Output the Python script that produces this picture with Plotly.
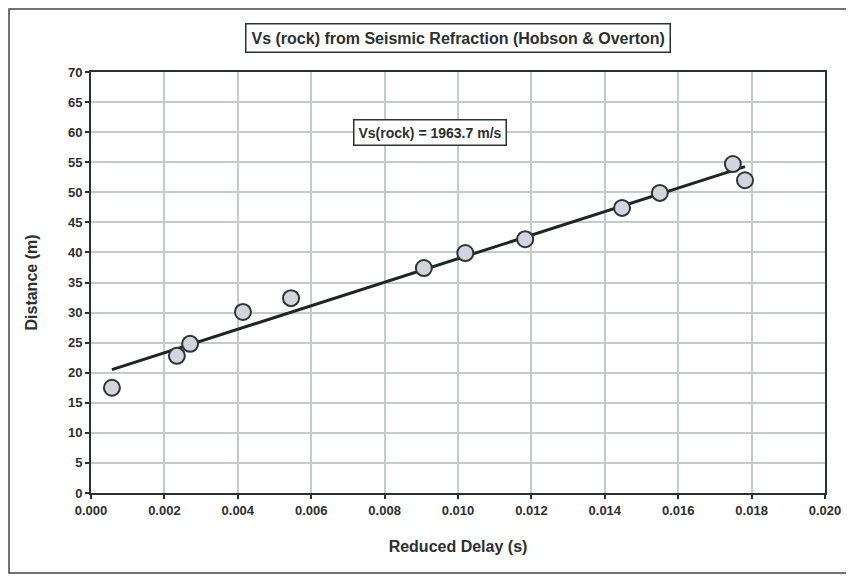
import numpy as np
import plotly.graph_objects as go

delay = [0.00057, 0.00234, 0.0027, 0.00414, 0.00545, 0.00907, 0.0102, 0.01183, 0.01447, 0.0155, 0.01749, 0.01782]
distance = [17.5, 22.8, 24.8, 30.1, 32.4, 37.4, 39.9, 42.2, 47.4, 49.9, 54.7, 52.0]
x_ticks = [0.000, 0.002, 0.004, 0.006, 0.008, 0.010, 0.012, 0.014, 0.016, 0.018, 0.020]
y_ticks = list(range(0, 75, 5))
title_text = "Vs (rock) from Seismic Refraction (Hobson & Overton)"
fit_label = "Vs(rock) = 1963.7 m/s"

slope, intercept = np.polyfit(delay, distance, 1)
fit_x = [min(delay), max(delay)]
fit_y = [slope * v + intercept for v in fit_x]

ink = "#2b3030"
font = "Liberation Sans, Arial, sans-serif"

fig = go.Figure()
fig.add_trace(go.Scatter(x=fit_x, y=fit_y, mode="lines",
                         line=dict(color="#1f2424", width=3), showlegend=False))
fig.add_trace(go.Scatter(x=delay, y=distance, mode="markers",
                         marker=dict(size=16, color="#d3d4dc", line=dict(color="#2f3535", width=2)),
                         showlegend=False))

axis_common = dict(showline=True, linecolor=ink, linewidth=2, mirror=True,
                   ticks="outside", ticklen=4, tickcolor=ink, tickwidth=1.5,
                   showgrid=True, gridcolor="#c5cbcb", gridwidth=1.5, zeroline=False,
                   automargin=False,
                   tickfont=dict(family=font, size=13, color=ink))

fig.update_xaxes(range=[0, 0.02], tickvals=x_ticks, ticktext=[f"<b>{v:.3f}</b>" for v in x_ticks],
                 title=dict(text="<b>Reduced Delay (s)</b>", font=dict(family=font, size=16, color=ink), standoff=24),
                 **axis_common)
fig.update_yaxes(range=[0, 70], tickvals=y_ticks, ticktext=[f"<b>{v}</b>" for v in y_ticks],
                 title=dict(text="<b>Distance (m)</b>", font=dict(family=font, size=16, color=ink), standoff=26),
                 **axis_common)

fig.update_layout(
    width=846, height=570,
    margin=dict(l=83, r=29, t=64, b=85),
    paper_bgcolor="white", plot_bgcolor="white",
    font=dict(family=font, color=ink),
    annotations=[
        dict(text=f"<b>{title_text}</b>", x=0.5, y=1 + 34/421, xref="paper", yref="paper",
             xanchor="center", yanchor="middle",
             showarrow=False, font=dict(family=font, size=16, color=ink),
             bordercolor=ink, borderwidth=1.5, borderpad=5, bgcolor="white"),
        dict(text=f"<b>{fit_label}</b>", x=0.00924, y=59.9, xref="x", yref="y",
             xanchor="center", yanchor="middle",
             showarrow=False, font=dict(family=font, size=14, color=ink),
             bordercolor=ink, borderwidth=1.5, borderpad=4, bgcolor="white"),
    ],
    shapes=[dict(type="rect", xref="paper", yref="paper",
                 x0=-82/734, x1=1 + 24/734, y0=-80/421, y1=1 + 63/421,
                 line=dict(color="#444", width=1.5))],
)
fig.write_html("out.html")
